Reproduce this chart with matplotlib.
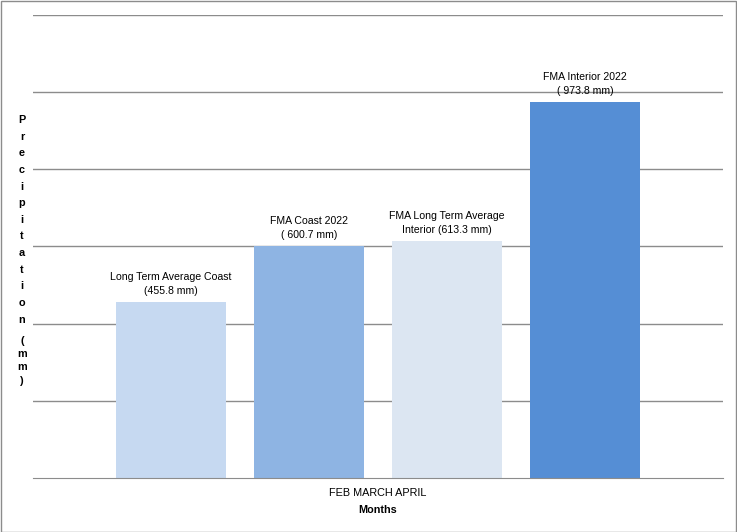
import matplotlib
matplotlib.use("Agg")
import matplotlib.pyplot as plt
from matplotlib.patches import Rectangle

# FMA precipitation totals (mm)
labels = ["Long Term Average Coast\n(455.8 mm)",
          "FMA Coast 2022\n( 600.7 mm)",
          "FMA Long Term Average\nInterior (613.3 mm)",
          "FMA Interior 2022\n( 973.8 mm)"]
values = [455.8, 600.7, 613.3, 973.8]
colors = ["#C6D9F1", "#8EB4E3", "#DCE6F2", "#558ED5"]
gridvals = [200, 400, 600, 800, 1000, 1200]

plt.rcParams['font.family'] = ['Liberation Sans', 'DejaVu Sans']

W, H = 737, 532
fig = plt.figure(figsize=(W / 100, H / 100), dpi=100)
ax = fig.add_axes([33 / W, 54 / H, 690 / W, 463 / H])

x = range(len(values))
bars = ax.bar(x, values, width=0.8, color=colors, zorder=2)
for i, b in enumerate(bars):
    ax.text(b.get_x() + b.get_width() / 2, values[i] + 16, labels[i],
            ha='center', va='bottom', fontsize=7.6, linespacing=1.5)

ax.set_xlim(-1, 4)
ax.set_ylim(0, 1200)
for g in gridvals:
    ax.axhline(g, color='#8c8c8c', lw=1, zorder=1)
for s in ['top', 'left', 'right']:
    ax.spines[s].set_visible(False)
ax.spines['bottom'].set_color('#8c8c8c')
ax.set_xticks([])
ax.set_yticks([])

# x axis text
fig.text(378 / W, 1 - 493 / H, "FEB MARCH APRIL", ha='center', va='center', fontsize=7.8)
fig.text(378 / W, 1 - 510 / H, "Months", ha='center', va='center', fontsize=7.8, fontweight='bold')

# stacked y label
fig.text(22 / W, 1 - 115 / H, "\n".join("Precipitation"), ha='center', va='top',
         fontsize=7.8, fontweight='bold', linespacing=1.83)
fig.text(22 / W, 1 - 336 / H, "\n".join("(mm)"), ha='center', va='top',
         fontsize=7.8, fontweight='bold', linespacing=1.4)

# outer border
fig.patches.append(Rectangle((0.5 / W, 0.5 / H), 1 - 1.5 / W, 1 - 1.5 / H,
                             transform=fig.transFigure, fill=False,
                             edgecolor='#8c8c8c', lw=1))

fig.savefig("out.png", dpi=100)
